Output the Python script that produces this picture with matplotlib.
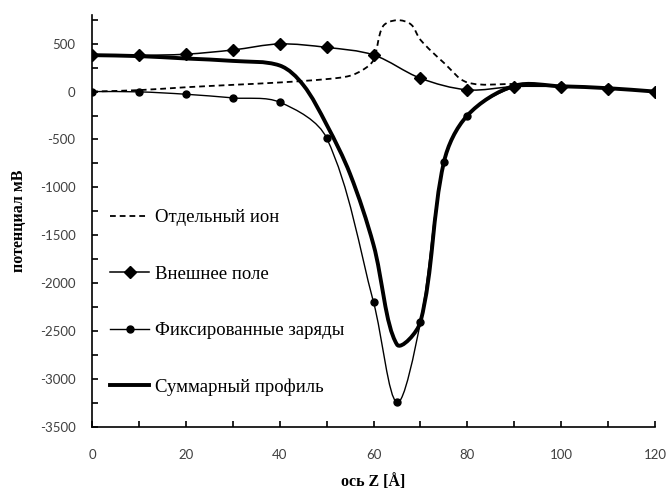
import numpy as np
import matplotlib.pyplot as plt
from matplotlib.path import Path
from matplotlib.patches import PathPatch
from matplotlib.lines import Line2D
from matplotlib.ticker import MultipleLocator

plt.rcParams["axes.unicode_minus"] = False

# -----------------------
# Data
# -----------------------
ion_x = [0, 10, 20, 30, 40, 50, 55, 58, 60, 62, 65, 68, 70, 75, 80, 90, 100, 110, 120]
ion_y = [0, 15, 45, 70, 95, 130, 165, 235, 330, 680, 745, 700, 540, 300, 95, 78, 55, 35, 0]

ext_x = [0, 10, 20, 30, 40, 50, 60, 70, 80, 90, 100, 110, 120]
ext_y = [380, 378, 390, 434, 497, 461, 382, 139, 18, 52, 52, 30, 0]

fix_x = [0, 10, 20, 30, 40, 50, 60, 65, 70, 75, 80, 90, 100, 110, 120]
fix_y = [0, -3, -28, -66, -111, -485, -2198, -3245, -2405, -737, -250, 45, 55, 35, 0]

sum_x = [0, 10, 20, 30, 40, 45, 50, 55, 60, 65, 70, 75, 80, 90, 100, 110, 120]
sum_y = [380, 370, 345, 320, 272, 70, -345, -860, -1600, -2640, -2405, -737, -250, 60, 55, 35, 0]

labels = ["Отдельный ион", "Внешнее поле", "Фиксированные заряды", "Суммарный профиль"]


def smooth_path(ax, xs, ys):
    # Excel-like smoothed line: tangents scaled by neighbouring segment lengths on screen
    p = np.column_stack([xs, ys]).astype(float)
    p_ext = np.vstack([p[0], p, p[-1]])
    s = ax.transData.transform(p_ext)
    d = np.hypot(*np.diff(s, axis=0).T)
    verts = [p[0]]
    codes = [Path.MOVETO]
    for i in range(len(p) - 1):
        p0, p1, p2, p3 = p_ext[i], p_ext[i + 1], p_ext[i + 2], p_ext[i + 3]
        d01, d12, d23 = d[i], d[i + 1], d[i + 2]
        a = d12 / (d01 + d12) if d01 + d12 > 0 else 0.5
        b = d12 / (d12 + d23) if d12 + d23 > 0 else 0.5
        c1 = p1 + (p2 - p0) * a / 3.0
        c2 = p2 - (p3 - p1) * b / 3.0
        verts += [c1, c2, p2]
        codes += [Path.CURVE4] * 3
    return Path(verts, codes)


fig = plt.figure(figsize=(6.67, 4.97), dpi=100)
ax = fig.add_axes([0.138, 0.141, 0.844, 0.829])
ax.set_xlim(0, 120)
ax.set_ylim(-3500, 800)

serif = "Liberation Serif"

# -----------------------
# Curves
# -----------------------
ax.add_patch(PathPatch(smooth_path(ax, ion_x, ion_y), fill=False, lw=1.3,
                       ls=(0, (3.2, 2.2)), ec="black", zorder=3))
ax.add_patch(PathPatch(smooth_path(ax, ext_x, ext_y), fill=False, lw=1.1,
                       ec="black", zorder=3))
ax.plot(ext_x, ext_y, ls="none", marker="D", ms=6.5, color="black", zorder=4)
ax.add_patch(PathPatch(smooth_path(ax, fix_x, fix_y), fill=False, lw=1.0,
                       ec="black", zorder=3))
ax.plot(fix_x, fix_y, ls="none", marker="o", ms=5, color="black", zorder=4)
ax.add_patch(PathPatch(smooth_path(ax, sum_x, sum_y), fill=False, lw=2.8,
                       ec="black", zorder=5))

# -----------------------
# Axes styling
# -----------------------
ax.xaxis.set_major_locator(MultipleLocator(20))
ax.xaxis.set_minor_locator(MultipleLocator(10))
ax.set_yticks(np.arange(-3500, 501, 500))
ax.yaxis.set_minor_locator(MultipleLocator(250))

for s in ["top", "right"]:
    ax.spines[s].set_visible(False)
for s in ["left", "bottom"]:
    ax.spines[s].set_linewidth(1.2)

ax.tick_params(which="both", direction="in", width=1.2, length=4, colors="black",
               labelcolor="#404040", labelsize=9.5)
ax.tick_params(axis="x", pad=16)
ax.tick_params(axis="y", pad=12)
for t in ax.get_xticklabels() + ax.get_yticklabels():
    t.set_fontfamily("Lato")

ax.set_xlabel("ось Z [Å]", family=serif, fontweight="bold", fontsize=11.5, labelpad=9)
ax.set_ylabel("потенциал мВ", family=serif, fontweight="bold", fontsize=11.5, labelpad=9)

# -----------------------
# Legend
# -----------------------
handles = [
    Line2D([], [], color="black", lw=1.3, ls=(0, (3.2, 2.2))),
    Line2D([], [], color="black", lw=1.1, marker="D", ms=6.5),
    Line2D([], [], color="black", lw=1.0, marker="o", ms=5),
    Line2D([], [], color="black", lw=2.8),
]
ax.legend(handles, labels, loc="center left", bbox_to_anchor=(0.032, 0.302),
          frameon=False, prop={"family": serif, "size": 13.5},
          labelspacing=2.1, handlelength=2.1, handletextpad=0.3,
          borderpad=0, borderaxespad=0)

fig.savefig("out.png", dpi=100)
